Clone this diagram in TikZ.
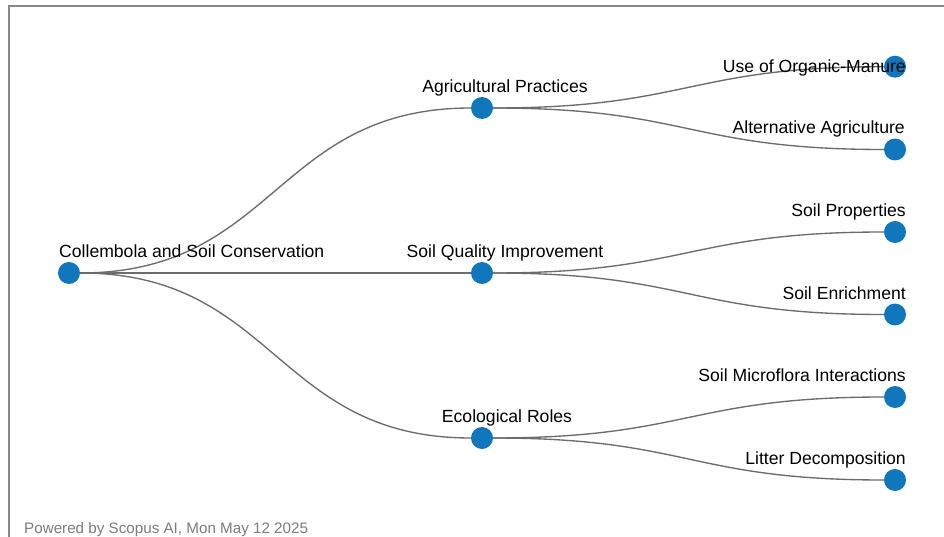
\documentclass[tikz,border=0pt]{standalone}
\usepackage{fontspec}
\setmainfont{Liberation Sans}
\definecolor{nodeblue}{RGB}{17,119,189}
\definecolor{edgegray}{RGB}{108,108,108}
\definecolor{framegray}{RGB}{136,136,136}
\definecolor{footgray}{RGB}{125,125,125}
\begin{document}
\begin{tikzpicture}[x=1pt,y=-1pt,
  dot/.style={circle,fill=nodeblue,minimum size=22pt,inner sep=0pt},
  link/.style={draw=edgegray,line width=1.35pt},
  lab/.style={font=\fontsize{17.6}{20}\selectfont,inner sep=0pt,text=black},
  foot/.style={font=\fontsize{15.2}{18}\selectfont,inner sep=0pt,text=footgray,anchor=base west}]
\useasboundingbox (0,0) rectangle (944,537);
\fill[white] (0,0) rectangle (944,537);
\draw[framegray,line width=1.4pt] (9,537) -- (9,6) -- (944,6);
% nodes
\node[dot] (root) at (69,273) {};
\node[dot] (ap) at (482,108) {};
\node[dot] (sq) at (482,273) {};
\node[dot] (er) at (482,438) {};
\node[dot] (l1) at (895,66.7) {};
\node[dot] (l2) at (895,149.5) {};
\node[dot] (l3) at (895,232) {};
\node[dot] (l4) at (895,314.5) {};
\node[dot] (l5) at (895,397) {};
\node[dot] (l6) at (895,480) {};
% connectors
\foreach \a/\b in {root/ap,root/sq,root/er,ap/l1,ap/l2,sq/l3,sq/l4,er/l5,er/l6}
  \draw[link] (\a) .. controls +(206.5,0) and +(-206.5,0) .. (\b);
% labels
\node[lab,anchor=base west] (troot) at (59,257.5) {Collembola and Soil Conservation};
\node[lab,anchor=base] (tap) at (505,92.5) {Agricultural Practices};
\node[lab,anchor=base] (tsq) at (505,257.5) {Soil Quality Improvement};
\node[lab,anchor=base] (ter) at (507,422.5) {Ecological Roles};
\node[lab,anchor=base east] (tl1) at (906,72.5) {Use of Organic-Manure};
\node[lab,anchor=base east] (tl2) at (905,134) {Alternative Agriculture};
\node[lab,anchor=base east] (tl3) at (906,216.5) {Soil Properties};
\node[lab,anchor=base east] (tl4) at (906,299) {Soil Enrichment};
\node[lab,anchor=base east] (tl5) at (906,381.5) {Soil Microflora Interactions};
\node[lab,anchor=base east] (tl6) at (906,464.5) {Litter Decomposition};
\node[foot] (footer) at (24,533) {Powered by Scopus AI, Mon May 12 2025};
\end{tikzpicture}
\end{document}
